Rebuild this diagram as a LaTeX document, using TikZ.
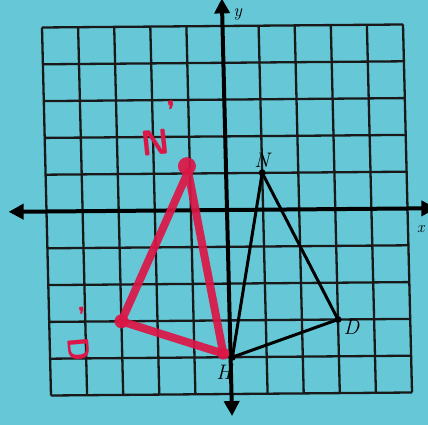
\documentclass[tikz,border=0pt]{standalone}
\usetikzlibrary{arrows.meta,calc}
\definecolor{bgblue}{RGB}{102,199,214}
\definecolor{penred}{RGB}{220,22,70}
\tikzset{
  gridline/.style={black!90, line width=2.3pt},
  axisline/.style={black, line width=4pt, {Triangle[length=15pt,width=15pt]}-{Triangle[length=15pt,width=15pt]}},
  triline/.style={black, line width=3pt, line join=round},
  redline/.style={penred, opacity=0.92, line width=8pt, line join=round, line cap=round},
  vdot/.style={circle, fill=black, inner sep=0pt, minimum size=7pt},
  vlabel/.style={font=\itshape\fontsize{21}{21}\selectfont, inner sep=0pt},
  redlabel/.style={penred, font=\sffamily\bfseries\fontsize{36}{36}\selectfont, inner sep=0pt},
}
\begin{document}
\begin{tikzpicture}[x=1pt,y=1pt]
\fill[bgblue] (0,0) rectangle (428,425);
\useasboundingbox (0,0) rectangle (428,425);
\begin{scope}[shift={(227pt,215pt)}, x={(36.1pt,0.3pt)}, y={(-0.9pt,36.8pt)}]
  % grid
  \foreach \i in {-5,...,5} {
    \draw[gridline] (\i,-5) -- (\i,5);
    \draw[gridline] (-5,\i) -- (5,\i);
  }
  % axes
  \coordinate (xl) at (-6.05,0);
  \coordinate (xr) at (5.8,0);
  \coordinate (yb) at (0,-5.6);
  \coordinate (yt) at (0,5.75);
  \draw[axisline] (xl) -- (xr);
  \draw[axisline] (yb) -- (yt);
  \node[vlabel, anchor=west, font=\itshape\fontsize{18}{18}\selectfont] (ylab) at (0.3,5.3) {y};
  \node[vlabel, anchor=west, font=\itshape\fontsize{16}{16}\selectfont] (xlab) at (5.25,-0.55) {x};
  % red image triangle
  \coordinate (Np) at (-1.05,1.05);
  \coordinate (Dp) at (-3,-3);
  \coordinate (Hp) at (-0.2,-3.9);
  \draw[redline] (Np) -- (Dp) -- (Hp) -- cycle;
  \fill[penred, opacity=0.92] (-1.08,1.2) circle (9pt);
  \fill[penred, opacity=0.92] (Dp) circle (7pt);
  \fill[penred, opacity=0.92] (Hp) circle (6pt);
  \node[redlabel, rotate=6] (NpLab) at (-1.95,1.85) {N};
  \node[redlabel, rotate=10] (NpPrime) at (-1.45,2.65) {'};
  \node[redlabel, rotate=-85, font=\sffamily\bfseries\fontsize{30}{30}\selectfont] (DpLab) at (-4.2,-3.75) {D};
  \node[redlabel, rotate=10, font=\sffamily\bfseries\fontsize{30}{30}\selectfont] (DpPrime) at (-4.05,-2.9) {'};
  % black triangle
  \coordinate (N) at (1,1);
  \coordinate (D) at (3,-3);
  \coordinate (H) at (0.05,-4);
  \draw[triline] (N) -- (D) -- (H) -- cycle;
  \node[vdot] (Ndot) at (N) {};
  \node[vdot] (Ddot) at (D) {};
  \node[vdot] (Hdot) at (H) {};
  \node[vlabel, anchor=south] (Nlab) at ($(N)+(0,0.15)$) {N};
  \node[vlabel, anchor=north west] (Dlab) at ($(D)+(0.15,-0.02)$) {D};
  \node[vlabel, anchor=north east] (Hlab) at ($(H)+(-0.02,-0.2)$) {H};
\end{scope}
\end{tikzpicture}
\end{document}
